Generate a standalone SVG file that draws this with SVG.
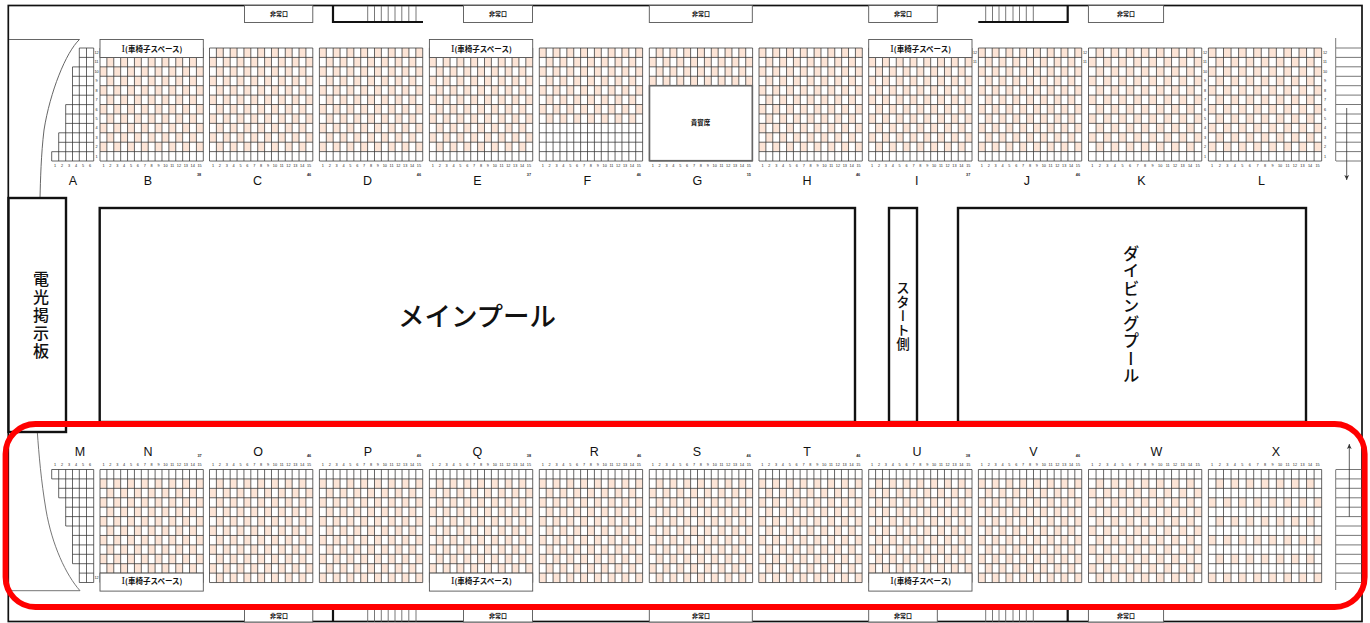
<svg xmlns="http://www.w3.org/2000/svg" xmlns:xlink="http://www.w3.org/1999/xlink" width="1370" height="623" viewBox="0 0 1370 623">
<style>
text{font-family:"Liberation Sans","Noto Sans CJK JP",sans-serif;fill:#111}
.jp{font-family:"Noto Sans CJK JP","Noto Sans",sans-serif;font-weight:500}
.n{font-size:3.8px;fill:#222}
.s1{word-spacing:3.718px}.s2{word-spacing:1.605px}
.w1{word-spacing:4.381px}.w2{word-spacing:2.268px}
.a1{word-spacing:3.831px}
.t{font-size:3.8px;font-weight:bold;text-anchor:middle;fill:#222}
.L{font-size:12.5px;text-anchor:middle}
.x{font-size:6px;font-weight:bold;text-anchor:middle;font-family:"Noto Sans CJK JP",sans-serif}
.box{fill:#fff;stroke:#555;stroke-width:.9}
.g{fill:none;stroke:#333;stroke-width:.75}
.pool{fill:#fff;stroke:#111;stroke-width:2.4}
.thick{fill:none;stroke:#111;stroke-width:2.2}
.thin{fill:none;stroke:#555;stroke-width:.8}
.wh{font-size:7.5px;text-anchor:middle;font-weight:bold;font-family:"Noto Sans CJK JP",sans-serif}
.r{font-size:10.5px;font-family:"Liberation Serif",serif;font-weight:normal}
.v{writing-mode:vertical-rl;text-anchor:middle;font-family:"Noto Sans CJK JP",sans-serif;font-weight:500}
</style>
<defs>
<pattern id="a" patternUnits="userSpaceOnUse" width="13.773" height="18.84"><rect width="6.887" height="9.42" fill="#fce4d6"/><rect x="6.887" y="9.42" width="6.887" height="9.42" fill="#fce4d6"/></pattern>
<pattern id="b" patternUnits="userSpaceOnUse" width="13.773" height="18.84"><rect x="6.887" width="6.887" height="9.42" fill="#fce4d6"/><rect y="9.42" width="6.887" height="9.42" fill="#fce4d6"/></pattern>
<pattern id="wa" patternUnits="userSpaceOnUse" width="15.1" height="18.84"><rect width="7.55" height="9.42" fill="#fce4d6"/><rect x="7.55" y="9.42" width="7.55" height="9.42" fill="#fce4d6"/></pattern>
<pattern id="wb" patternUnits="userSpaceOnUse" width="15.1" height="18.84"><rect x="7.55" width="7.55" height="9.42" fill="#fce4d6"/><rect y="9.42" width="7.55" height="9.42" fill="#fce4d6"/></pattern>
<pattern id="wx" patternUnits="userSpaceOnUse" width="15.1" height="37.68"><rect x="7.55" y="9.42" width="7.55" height="9.42" fill="#fce4d6"/><rect y="28.26" width="7.55" height="9.42" fill="#fce4d6"/></pattern>
<path id="g15" class="g" d="M0 0v113m6.887-113v113m6.887-113v113m6.887-113v113m6.887-113v113m6.887-113v113m6.887-113v113m6.887-113v113m6.887-113v113m6.887-113v113m6.887-113v113m6.887-113v113m6.887-113v113m6.887-113v113m6.887-113v113m6.887-113v113M0 0h103.3m-103.3 9.42h103.3m-103.3 9.42h103.3m-103.3 9.42h103.3m-103.3 9.42h103.3m-103.3 9.42h103.3m-103.3 9.42h103.3m-103.3 9.42h103.3m-103.3 9.42h103.3m-103.3 9.42h103.3m-103.3 9.42h103.3m-103.3 9.42h103.3m-103.3 9.42h103.3"/>
<path id="g16" class="g" d="M0 0v113m7.55-113v113m7.55-113v113m7.55-113v113m7.55-113v113m7.55-113v113m7.55-113v113m7.55-113v113m7.55-113v113m7.55-113v113m7.55-113v113m7.55-113v113m7.55-113v113m7.55-113v113m7.55-113v113m7.55-113v113M0 0h113.25m-113.25 9.42h113.25m-113.25 9.42h113.25m-113.25 9.42h113.25m-113.25 9.42h113.25m-113.25 9.42h113.25m-113.25 9.42h113.25m-113.25 9.42h113.25m-113.25 9.42h113.25m-113.25 9.42h113.25m-113.25 9.42h113.25m-113.25 9.42h113.25m-113.25 9.42h113.25"/>
<marker id="ah" markerUnits="userSpaceOnUse" markerWidth="6" markerHeight="6" refX="5" refY="3" orient="auto"><path d="M0 .6L5 3L0 5.4L1.2 3z" fill="#333"/></marker>
</defs>

<rect id="frame" x="8.3" y="5.5" width="1353.7" height="616" fill="#fff" stroke="#111" stroke-width="1.7"/>

<g id="exits">
<rect class="box" x="244.5" y="5.5" width="68.3" height="17"/><text class="x" x="279" y="16">非常口</text>
<rect class="box" x="463.5" y="5.5" width="69" height="17"/><text class="x" x="498" y="16">非常口</text>
<rect class="box" x="649.3" y="5.5" width="103" height="17"/><text class="x" x="701" y="16">非常口</text>
<rect class="box" x="868.7" y="5.5" width="68.6" height="17"/><text class="x" x="903" y="16">非常口</text>
<rect class="box" x="1088.4" y="5.5" width="75.2" height="17"/><text class="x" x="1126" y="16">非常口</text>
<rect class="box" x="244.5" y="609" width="68.3" height="13"/><text class="x" x="279" y="618">非常口</text>
<rect class="box" x="463.5" y="609" width="69" height="13"/><text class="x" x="498" y="618">非常口</text>
<rect class="box" x="649.3" y="609" width="103" height="13"/><text class="x" x="701" y="618">非常口</text>
<rect class="box" x="868.7" y="609" width="68.6" height="13"/><text class="x" x="903" y="618">非常口</text>
<rect class="box" x="1088.4" y="609" width="75.2" height="13"/><text class="x" x="1126" y="618">非常口</text>
</g>

<g id="stairs">
<path class="thin" d="M367.7 6V22M374.5 6V22M381.3 6V22M388.2 6V22M395 6V22M401.8 6V22M408.8 6V22M416 6V22M985.7 6V22M992.5 6V22M999 6V22M1005.7 6V22M1013 6V22M1019.5 6V22M1026.3 6V22M1033.3 6V22M367.7 610V622M374.5 610V622M381.3 610V622M388.2 610V622M395 610V622M401.8 610V622M408.8 610V622M416 610V622M985.7 610V622M992.5 610V622M999 610V622M1005.7 610V622M1013 610V622M1019.5 610V622M1026.3 610V622M1033.3 610V622"/>
<path class="thick" d="M333 6V22H423M1067.7 6V22H978.3M333 610V622M1067.7 610V622"/>
<path class="thin" d="M1335.7 38V161M1336 48H1362M1336 57.4H1362M1336 66.8H1362M1336 76.3H1362M1336 85.7H1362M1336 95.1H1362M1336 104.5H1362M1336 114H1362M1336 123.4H1362M1336 132.8H1362M1336 142.2H1362M1336 151.6H1362M1336 161H1362"/>
<path class="thin" d="M1335.7 469.5V590M1336 469.5H1362M1336 478.9H1362M1336 488.3H1362M1336 497.8H1362M1336 507.2H1362M1336 516.6H1362M1336 526H1362M1336 535.4H1362M1336 544.9H1362M1336 554.3H1362M1336 563.7H1362M1336 573.1H1362M1336 582.5H1362"/>
<path d="M1346.7 108V180" fill="none" stroke="#333" stroke-width=".8" marker-end="url(#ah)"/>
<path d="M1349.3 516.7V444" fill="none" stroke="#333" stroke-width=".8" marker-end="url(#ah)"/>
<path d="M9 39.5H79.5C66 52 50 92 44 130C41 155 40.5 180 40 198" fill="none" stroke="#555" stroke-width=".9"/>
<path d="M9 590.7H80C66 575 52 545 46 510C41 480 39 455 37.3 432" fill="none" stroke="#666" stroke-width=".9"/>
</g>

<g id="block-A">
<path class="g" d="M51.7 151.7V161M58.7 132.8V161M65.7 104.6V161M72.5 66.9V161M79.3 48V161M86.5 48V161M93.7 48V161M79.3 48H93.7M79.3 57.4H93.7M72.5 66.9H93.7M72.5 76.3H93.7M72.5 85.7H93.7M72.5 95.2H93.7M65.7 104.6H93.7M65.7 114H93.7M65.7 123.4H93.7M58.7 132.8H93.7M58.7 142.3H93.7M51.7 151.7H93.7M51.7 161H93.7"/>
<text class="n" x="54.1" y="166.6"><tspan class="a1">1 2 3 4 5 6</tspan></text>
<text class="L" x="73" y="184.5">A</text>
</g>
<g id="block-M">
<path class="g" d="M51.7 469.5V478.9M58.7 469.5V497.8M65.7 469.5V526M72.5 469.5V563.7M79.3 469.5V582.5M86.5 469.5V582.5M93.7 469.5V582.5M51.7 469.5H93.7M51.7 478.9H93.7M58.7 488.3H93.7M58.7 497.8H93.7M65.7 507.2H93.7M65.7 516.6H93.7M65.7 526H93.7M72.5 535.4H93.7M72.5 544.9H93.7M72.5 554.3H93.7M72.5 563.7H93.7M79.3 573.1H93.7M79.3 582.5H93.7"/>
<text class="n" x="54.1" y="466.3"><tspan class="a1">1 2 3 4 5 6</tspan></text>
<text class="L" x="80" y="456">M</text>
</g>

<g id="block-B" transform="translate(100 48)"><rect fill="url(#a)" width="103.3" height="103.6"/><use href="#g15"/><text class="n" x="2.39" y="118.6"><tspan class="s1">1 2 3 4 5 6 7 8 9</tspan><tspan class="s2" x="63.31">10 11 12 13 14 15</tspan></text><text class="L" x="48" y="136.5">B</text><text class="t" x="99" y="127.6">38</text><rect class="box" y="-8.5" width="103.3" height="18"/><text class="wh" x="52" y="3.5"><tspan class="r">I</tspan>(車椅子スペース)</text></g>
<g id="block-C" transform="translate(209.5 48)"><rect fill="url(#b)" width="103.3" height="103.6"/><use href="#g15"/><text class="n" x="2.39" y="118.6"><tspan class="s1">1 2 3 4 5 6 7 8 9</tspan><tspan class="s2" x="63.31">10 11 12 13 14 15</tspan></text><text class="L" x="48" y="136.5">C</text><text class="t" x="99.5" y="127.6">46</text></g>
<g id="block-D" transform="translate(319.4 48)"><rect fill="url(#a)" width="103.3" height="103.6"/><use href="#g15"/><text class="n" x="2.39" y="118.6"><tspan class="s1">1 2 3 4 5 6 7 8 9</tspan><tspan class="s2" x="63.31">10 11 12 13 14 15</tspan></text><text class="L" x="48" y="136.5">D</text><text class="t" x="99.5" y="127.6">46</text></g>
<g id="block-E" transform="translate(429.4 48)"><rect fill="url(#b)" width="103.3" height="103.6"/><use href="#g15"/><text class="n" x="2.39" y="118.6"><tspan class="s1">1 2 3 4 5 6 7 8 9</tspan><tspan class="s2" x="63.31">10 11 12 13 14 15</tspan></text><text class="L" x="48" y="136.5">E</text><text class="t" x="99.5" y="127.6">37</text><rect class="box" y="-8.5" width="103.3" height="18"/><text class="wh" x="52" y="3.5"><tspan class="r">I</tspan>(車椅子スペース)</text></g>
<g id="block-F" transform="translate(539.3 48)"><rect fill="url(#a)" width="103.3" height="75.3"/><use href="#g15"/><text class="n" x="2.39" y="118.6"><tspan class="s1">1 2 3 4 5 6 7 8 9</tspan><tspan class="s2" x="63.31">10 11 12 13 14 15</tspan></text><text class="L" x="48" y="136.5">F</text><text class="t" x="99.5" y="127.6">46</text></g>
<g id="block-G" transform="translate(649.3 48)"><rect fill="url(#b)" width="103.3" height="103.6"/><use href="#g15"/><text class="n" x="2.39" y="118.6"><tspan class="s1">1 2 3 4 5 6 7 8 9</tspan><tspan class="s2" x="63.31">10 11 12 13 14 15</tspan></text><text class="L" x="48" y="136.5">G</text><text class="t" x="99.5" y="127.6">15</text><rect x=".2" y="37.7" width="102.8" height="75" fill="#fff" stroke="#666" stroke-width="1.6"/><text class="x" x="51.3" y="76.6" style="font-size:6.5px">貴賓席</text></g>
<g id="block-H" transform="translate(759 48)"><rect fill="url(#a)" width="103.3" height="103.6"/><use href="#g15"/><text class="n" x="2.39" y="118.6"><tspan class="s1">1 2 3 4 5 6 7 8 9</tspan><tspan class="s2" x="63.31">10 11 12 13 14 15</tspan></text><text class="L" x="48" y="136.5">H</text><text class="t" x="99" y="127.6">46</text></g>
<g id="block-I" transform="translate(868.7 48)"><rect fill="url(#b)" width="103.3" height="103.6"/><use href="#g15"/><text class="n" x="2.39" y="118.6"><tspan class="s1">1 2 3 4 5 6 7 8 9</tspan><tspan class="s2" x="63.31">10 11 12 13 14 15</tspan></text><text class="L" x="48" y="136.5">I</text><text class="t" x="99.5" y="127.6">37</text><rect class="box" y="-8.5" width="103.3" height="18"/><text class="wh" x="52" y="3.5"><tspan class="r">I</tspan>(車椅子スペース)</text></g>
<g id="block-J" transform="translate(978.4 48)"><rect fill="url(#a)" width="103.3" height="103.6"/><use href="#g15"/><text class="n" x="2.39" y="118.6"><tspan class="s1">1 2 3 4 5 6 7 8 9</tspan><tspan class="s2" x="63.31">10 11 12 13 14 15</tspan></text><text class="L" x="48.6" y="136.5">J</text><text class="t" x="99.6" y="127.6">46</text></g>
<g id="block-K" transform="translate(1088.5 48)"><rect fill="url(#wb)" width="113.25" height="103.6"/><use href="#g16"/><text class="n" x="2.72" y="118.6"><tspan class="w1">1 2 3 4 5 6 7 8 9</tspan><tspan class="w2" x="69.61">10 11 12 13 14 15</tspan></text><text class="L" x="53" y="136.5">K</text></g>
<g id="block-L" transform="translate(1208.4 48)"><rect fill="url(#wa)" width="113.25" height="103.6"/><use href="#g16"/><text class="n" x="2.72" y="118.6"><tspan class="w1">1 2 3 4 5 6 7 8 9</tspan><tspan class="w2" x="69.61">10 11 12 13 14 15</tspan></text><text class="L" x="53" y="136.5">L</text></g>

<g id="block-N" transform="translate(100 469.5)"><rect fill="url(#b)" y="9.42" width="103.3" height="103.6"/><use href="#g15"/><text class="n" x="2.39" y="-3.2"><tspan class="s1">1 2 3 4 5 6 7 8 9</tspan><tspan class="s2" x="63.31">10 11 12 13 14 15</tspan></text><text class="L" x="48" y="-13.5">N</text><text class="t" x="99.5" y="-12.8">37</text><rect class="box" y="103.6" width="103.3" height="18"/><text class="wh" x="52" y="114.3"><tspan class="r">I</tspan>(車椅子スペース)</text></g>
<g id="block-O" transform="translate(209.5 469.5)"><rect fill="url(#a)" y="9.42" width="103.3" height="103.6"/><use href="#g15"/><text class="n" x="2.39" y="-3.2"><tspan class="s1">1 2 3 4 5 6 7 8 9</tspan><tspan class="s2" x="63.31">10 11 12 13 14 15</tspan></text><text class="L" x="48.5" y="-13.5">O</text><text class="t" x="99.5" y="-12.8">46</text></g>
<g id="block-P" transform="translate(319.4 469.5)"><rect fill="url(#b)" y="9.42" width="103.3" height="103.6"/><use href="#g15"/><text class="n" x="2.39" y="-3.2"><tspan class="s1">1 2 3 4 5 6 7 8 9</tspan><tspan class="s2" x="63.31">10 11 12 13 14 15</tspan></text><text class="L" x="48.5" y="-13.5">P</text><text class="t" x="99.5" y="-12.8">46</text></g>
<g id="block-Q" transform="translate(429.4 469.5)"><rect fill="url(#a)" y="9.42" width="103.3" height="103.6"/><use href="#g15"/><text class="n" x="2.39" y="-3.2"><tspan class="s1">1 2 3 4 5 6 7 8 9</tspan><tspan class="s2" x="63.31">10 11 12 13 14 15</tspan></text><text class="L" x="48" y="-13.5">Q</text><text class="t" x="99.5" y="-12.8">38</text><rect class="box" y="103.6" width="103.3" height="18"/><text class="wh" x="52" y="114.3"><tspan class="r">I</tspan>(車椅子スペース)</text></g>
<g id="block-R" transform="translate(539.3 469.5)"><rect fill="url(#b)" y="9.42" width="103.3" height="103.6"/><use href="#g15"/><text class="n" x="2.39" y="-3.2"><tspan class="s1">1 2 3 4 5 6 7 8 9</tspan><tspan class="s2" x="63.31">10 11 12 13 14 15</tspan></text><text class="L" x="55" y="-13.5">R</text><text class="t" x="99.7" y="-12.8">46</text></g>
<g id="block-S" transform="translate(649.3 469.5)"><rect fill="url(#a)" y="9.42" width="103.3" height="103.6"/><use href="#g15"/><text class="n" x="2.39" y="-3.2"><tspan class="s1">1 2 3 4 5 6 7 8 9</tspan><tspan class="s2" x="63.31">10 11 12 13 14 15</tspan></text><text class="L" x="47.7" y="-13.5">S</text><text class="t" x="99.4" y="-12.8">46</text></g>
<g id="block-T" transform="translate(758.8 469.5)"><rect fill="url(#b)" y="9.42" width="103.3" height="103.6"/><use href="#g15"/><text class="n" x="2.39" y="-3.2"><tspan class="s1">1 2 3 4 5 6 7 8 9</tspan><tspan class="s2" x="63.31">10 11 12 13 14 15</tspan></text><text class="L" x="48.2" y="-13.5">T</text><text class="t" x="99.5" y="-12.8">46</text></g>
<g id="block-U" transform="translate(868.7 469.5)"><rect fill="url(#a)" y="9.42" width="103.3" height="103.6"/><use href="#g15"/><text class="n" x="2.39" y="-3.2"><tspan class="s1">1 2 3 4 5 6 7 8 9</tspan><tspan class="s2" x="63.31">10 11 12 13 14 15</tspan></text><text class="L" x="48.3" y="-13.5">U</text><text class="t" x="99.3" y="-12.8">38</text><rect class="box" y="103.6" width="103.3" height="18"/><text class="wh" x="52" y="114.3"><tspan class="r">I</tspan>(車椅子スペース)</text></g>
<g id="block-V" transform="translate(978.4 469.5)"><rect fill="url(#b)" y="9.42" width="103.3" height="103.6"/><use href="#g15"/><text class="n" x="2.39" y="-3.2"><tspan class="s1">1 2 3 4 5 6 7 8 9</tspan><tspan class="s2" x="63.31">10 11 12 13 14 15</tspan></text><text class="L" x="55" y="-13.5">V</text><text class="t" x="99.6" y="-12.8">46</text></g>
<g id="block-W" transform="translate(1088.5 469.5)"><rect fill="url(#wa)" y="9.42" width="113.25" height="103.6"/><use href="#g16"/><text class="n" x="2.72" y="-3.2"><tspan class="w1">1 2 3 4 5 6 7 8 9</tspan><tspan class="w2" x="69.61">10 11 12 13 14 15</tspan></text><text class="L" x="68" y="-13.5">W</text></g>
<g id="block-X" transform="translate(1208.4 469.5)"><rect fill="url(#wx)" y="9.42" width="113.25" height="103.6"/><use href="#g16"/><text class="n" x="2.72" y="-3.2"><tspan class="w1">1 2 3 4 5 6 7 8 9</tspan><tspan class="w2" x="69.61">10 11 12 13 14 15</tspan></text><text class="L" x="67.6" y="-13.5">X</text></g>

<g id="row-numbers" text-anchor="middle">
<text class="n"><tspan x="96.5" y="54">12</tspan><tspan x="96.5" y="63.4">11</tspan><tspan x="96.5" y="72.8">10</tspan><tspan x="96.5" y="82.3">9</tspan><tspan x="96.5" y="91.7">8</tspan><tspan x="96.5" y="101.1">7</tspan><tspan x="96.5" y="110.5">6</tspan><tspan x="96.5" y="120">5</tspan><tspan x="96.5" y="129.4">4</tspan><tspan x="96.5" y="138.8">3</tspan><tspan x="96.5" y="148.2">2</tspan><tspan x="96.5" y="157.7">1</tspan></text>
<text class="n"><tspan x="1205" y="54">12</tspan><tspan x="1205" y="63.4">11</tspan><tspan x="1205" y="72.8">10</tspan><tspan x="1205" y="82.3">9</tspan><tspan x="1205" y="91.7">8</tspan><tspan x="1205" y="101.1">7</tspan><tspan x="1205" y="110.5">6</tspan><tspan x="1205" y="120">5</tspan><tspan x="1205" y="129.4">4</tspan><tspan x="1205" y="138.8">3</tspan><tspan x="1205" y="148.2">2</tspan><tspan x="1205" y="157.7">1</tspan></text>
<text class="n"><tspan x="1325" y="54">12</tspan><tspan x="1325" y="63.4">11</tspan><tspan x="1325" y="72.8">10</tspan><tspan x="1325" y="82.3">9</tspan><tspan x="1325" y="91.7">8</tspan><tspan x="1325" y="101.1">7</tspan><tspan x="1325" y="110.5">6</tspan><tspan x="1325" y="120">5</tspan><tspan x="1325" y="129.4">4</tspan><tspan x="1325" y="138.8">3</tspan><tspan x="1325" y="148.2">2</tspan><tspan x="1325" y="157.7">1</tspan></text>
<text class="n"><tspan x="975" y="54">12</tspan><tspan x="975" y="63.4">11</tspan></text>
<text class="n"><tspan x="1085" y="54">12</tspan><tspan x="1085" y="63.4">11</tspan></text>
<text class="n"><tspan x="96.5" y="578.5">12</tspan></text>
</g>

<g id="main-pool"><rect class="pool" x="99.7" y="208" width="755.3" height="214"/><text class="jp" x="477" y="326" text-anchor="middle" font-size="26.5">メインプール</text></g>
<g id="start-side"><rect class="pool" x="889" y="208" width="28" height="214"/><text class="v" x="903" y="316" font-size="13.5" style="letter-spacing:.6px">スタート側</text></g>
<g id="diving-pool"><rect class="pool" x="958" y="208" width="348" height="214"/><text class="v" x="1131" y="315" font-size="16.5" style="letter-spacing:1px">ダイビングプール</text></g>
<g id="scoreboard"><rect class="pool" x="8.5" y="198" width="57.5" height="234"/><text class="v" x="41" y="316" font-size="16" style="letter-spacing:2px">電光掲示板</text></g>

<rect id="highlight" x="5.5" y="424" width="1359.2" height="183" rx="30" ry="30" fill="none" stroke="#f00" stroke-width="5.8"/>
</svg>
